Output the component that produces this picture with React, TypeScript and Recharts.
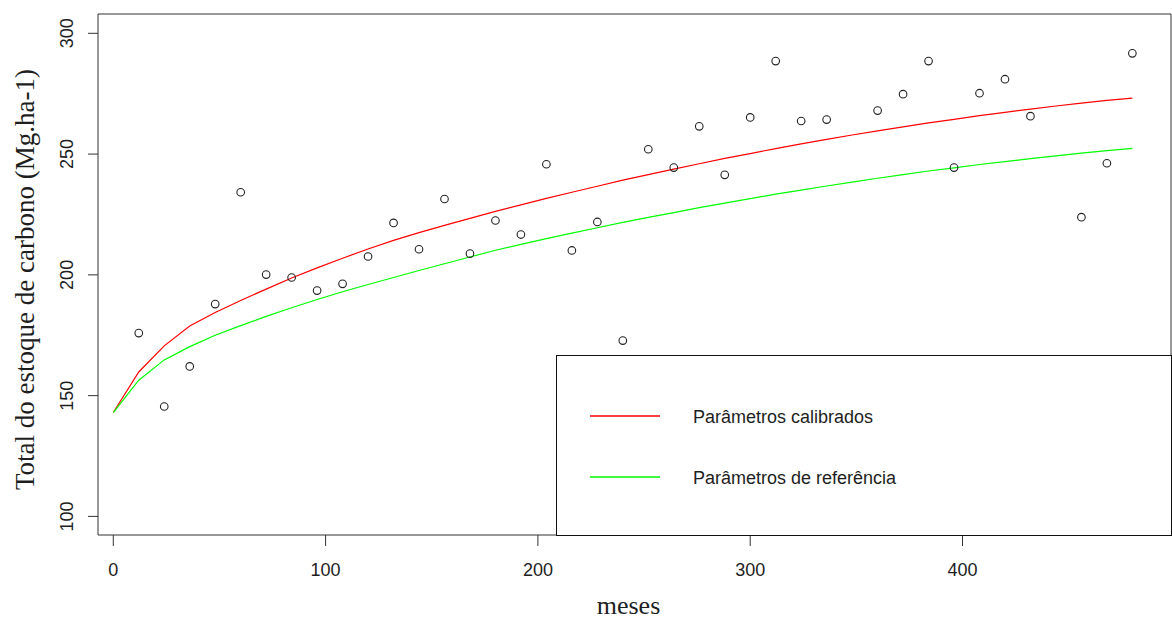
import React from 'react';
import { ComposedChart, Line, Scatter, XAxis, YAxis, ReferenceArea, Legend, Label } from 'recharts';

const curveMonths = [0, 12, 24, 36, 48, 60, 72, 84, 96, 108, 120, 132, 144, 156, 168, 180, 192, 204, 216, 228, 240, 252, 264, 276, 288, 300, 312, 324, 336, 348, 360, 372, 384, 396, 408, 420, 432, 444, 456, 468, 480];
const calibrated = [143.0, 159.8, 170.6, 178.8, 184.4, 189.4, 194.1, 198.7, 202.9, 206.9, 210.7, 214.3, 217.5, 220.5, 223.4, 226.3, 229.0, 231.7, 234.2, 236.7, 239.2, 241.5, 243.8, 246.0, 248.2, 250.2, 252.3, 254.2, 256.1, 257.9, 259.6, 261.3, 262.9, 264.4, 265.9, 267.3, 268.6, 269.9, 271.1, 272.2, 273.2];
const reference = [143.0, 156.4, 164.8, 170.3, 175.0, 179.0, 182.8, 186.4, 189.8, 193.0, 196.0, 198.9, 201.8, 204.6, 207.4, 210.2, 212.6, 215.0, 217.3, 219.5, 221.7, 223.8, 225.8, 227.8, 229.7, 231.6, 233.4, 235.1, 236.8, 238.4, 240.0, 241.5, 243.0, 244.3, 245.7, 246.9, 248.1, 249.3, 250.4, 251.4, 252.4];
const obsMonths = [12, 24, 36, 48, 60, 72, 84, 96, 108, 120, 132, 144, 156, 168, 180, 192, 204, 216, 228, 240, 252, 264, 276, 288, 300, 312, 324, 336, 360, 372, 384, 396, 408, 420, 432, 456, 468, 480];
const obsValues = [175.9, 145.5, 162.1, 187.9, 234.2, 200.1, 198.9, 193.5, 196.3, 207.6, 221.5, 210.6, 231.4, 208.8, 222.5, 216.7, 245.8, 210.1, 221.9, 172.8, 252.0, 244.4, 261.5, 241.4, 265.2, 288.5, 263.7, 264.3, 268.0, 274.8, 288.5, 244.4, 275.2, 281.0, 265.7, 223.9, 246.2, 291.7];
const xTicks = [0, 100, 200, 300, 400];
const yTicks = [100, 150, 200, 250, 300];
const legendLabels = ['Parâmetros calibrados', 'Parâmetros de referência'];
const seriesColors = ['#ff0000', '#00ff00'];
const xTitle = 'meses';
const yTitle = 'Total do estoque de carbono (Mg.ha-1)';

const X_DOMAIN = [-7.2, 498.2];
const Y_DOMAIN = [92.3, 308];

const curveData = curveMonths.map((m, i) => ({ month: m, calib: calibrated[i], ref: reference[i] }));
const obsData = obsMonths.map((m, i) => ({ month: m, value: obsValues[i] }));

const SANS = '"Liberation Sans", Arial, sans-serif';
const SERIF = '"Liberation Serif", "Times New Roman", serif';
const TEXT = '#1e1e1e';

const XTick = (props: any) => {
  const { x, y, payload } = props;
  return (
    <text x={x} y={y} dy={30} textAnchor="middle" fontFamily={SANS} fontSize={18} fill={TEXT}>
      {payload.value}
    </text>
  );
};

const YTick = (props: any) => {
  const { x, y, payload } = props;
  const bx = x - 15;
  return (
    <text x={bx} y={y} transform={`rotate(-90 ${bx} ${y})`} textAnchor="middle" fontFamily={SANS} fontSize={18} fill={TEXT}>
      {payload.value}
    </text>
  );
};

const ObsCircle = (props: any) => {
  const { cx, cy } = props;
  if (cx == null || cy == null) return null;
  return <circle cx={cx} cy={cy} r={3.8} fill="none" stroke="#222" strokeWidth={1.1} />;
};

const XTitle = (props: any) => {
  const vb = props.viewBox || { x: 98, y: 535, width: 1073, height: 87 };
  return (
    <text x={vb.x + vb.width / 2 - 6} y={vb.y + 79} textAnchor="middle" fontFamily={SERIF} fontSize={26} fill={TEXT}>
      {xTitle}
    </text>
  );
};

const YTitle = (props: any) => {
  const vb = props.viewBox || { x: 0, y: 14, width: 98, height: 521 };
  const cx = 33.5;
  const cy = vb.y + vb.height / 2 + 5;
  return (
    <text x={cx} y={cy} transform={`rotate(-90 ${cx} ${cy})`} textAnchor="middle" fontFamily={SERIF} fontSize={27} fill={TEXT}>
      {yTitle}
    </text>
  );
};

const LegendBox = () => (
  <div style={{ width: '100%', height: '100%', boxSizing: 'border-box', border: '1px solid #111', background: '#fff' }}>
    <svg width={614} height={180} style={{ display: 'block' }}>
      {legendLabels.map((lab, i) => (
        <g key={lab}>
          <line x1={33} x2={103} y1={60 + i * 61} y2={60 + i * 61} stroke={seriesColors[i]} strokeWidth={1.3} />
          <text x={136} y={67 + i * 61} fontFamily={SANS} fontSize={18} fill={TEXT}>
            {lab}
          </text>
        </g>
      ))}
    </svg>
  </div>
);

export default function App() {
  return (
    <div style={{ position: 'absolute', left: 0, top: 0, width: 1172, height: 622, background: '#fff' }}>
      <ComposedChart width={1172} height={622} data={curveData} margin={{ top: 14, right: 1, bottom: 0, left: 0 }}>
        <XAxis
          type="number"
          dataKey="month"
          domain={X_DOMAIN}
          ticks={xTicks}
          allowDataOverflow
          height={87}
          axisLine={false}
          tickLine={{ stroke: '#333' }}
          tickSize={11}
          tickMargin={0}
          tick={XTick}
          interval={0}
        >
          <Label content={XTitle} />
        </XAxis>
        <YAxis
          type="number"
          domain={Y_DOMAIN}
          ticks={yTicks}
          allowDataOverflow
          width={98}
          axisLine={false}
          tickLine={{ stroke: '#333' }}
          tickSize={10}
          tickMargin={0}
          tick={YTick}
          interval={0}
        >
          <Label content={YTitle} />
        </YAxis>
        <ReferenceArea x1={X_DOMAIN[0]} x2={X_DOMAIN[1]} y1={Y_DOMAIN[0]} y2={Y_DOMAIN[1]} fill="none" stroke="#333" strokeWidth={1} />
        <Line type="linear" dataKey="calib" stroke={seriesColors[0]} strokeWidth={1.2} dot={false} isAnimationActive={false} />
        <Line type="linear" dataKey="ref" stroke={seriesColors[1]} strokeWidth={1.2} dot={false} isAnimationActive={false} />
        <Scatter data={obsData} dataKey="value" shape={ObsCircle} isAnimationActive={false} />
        <Legend
          verticalAlign="middle"
          align="center"
          layout="horizontal"
          content={LegendBox}
          wrapperStyle={{ left: 556, top: 354.5, width: 616, height: 181.5 }}
        />
      </ComposedChart>
    </div>
  );
}
